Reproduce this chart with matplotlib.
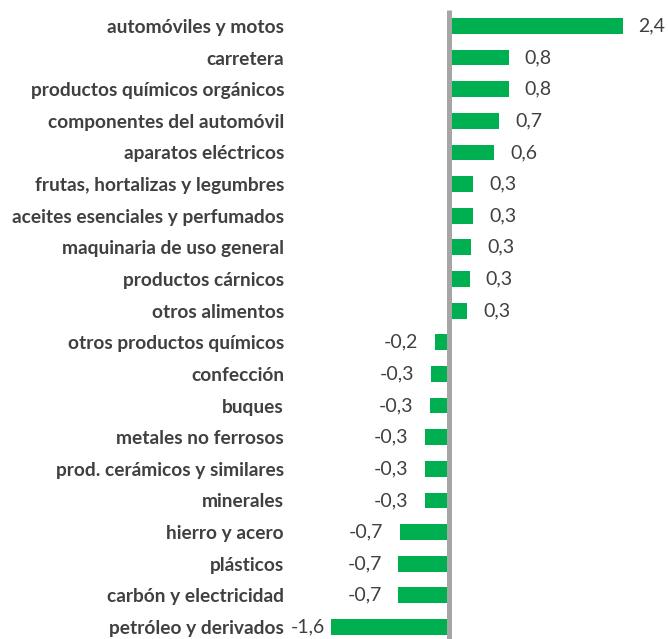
import matplotlib
matplotlib.use("Agg")
import matplotlib.pyplot as plt

categories = [
    "automóviles y motos", "carretera", "productos químicos orgánicos",
    "componentes del automóvil", "aparatos eléctricos",
    "frutas, hortalizas y legumbres", "aceites esenciales y perfumados",
    "maquinaria de uso general", "productos cárnicos", "otros alimentos",
    "otros productos químicos", "confección", "buques", "metales no ferrosos",
    "prod. cerámicos y similares", "minerales", "hierro y acero", "plásticos",
    "carbón y electricidad", "petróleo y derivados",
]
values = [2.40, 0.83, 0.83, 0.70, 0.63, 0.34, 0.34, 0.31, 0.29, 0.26,
          -0.19, -0.24, -0.26, -0.32, -0.32, -0.32, -0.67, -0.69, -0.69, -1.62]
value_labels = ["2,4", "0,8", "0,8", "0,7", "0,6", "0,3", "0,3", "0,3", "0,3", "0,3",
                "-0,2", "-0,3", "-0,3", "-0,3", "-0,3", "-0,3", "-0,7", "-0,7", "-0,7", "-1,6"]

W, H = 668, 639
fig = plt.figure(figsize=(W / 100, H / 100), dpi=100)
ax_left, ax_right = 303.5, 666.0
ax = fig.add_axes([ax_left / W, 0, (ax_right - ax_left) / W, 634 / H])

ypos = list(range(len(categories)))
ax.barh(ypos, values, height=0.5, color="#00b050", zorder=2)
ax.plot([0, 0], [-0.5, 19.5], color="#a6a6a6", lw=3.6, zorder=3, solid_capstyle="butt")

ax.set_xlim(-2, 3)
ax.set_ylim(19.38, -0.66)
for s in ax.spines.values():
    s.set_visible(False)
ax.set_xticks([])
ax.set_yticks(ypos)
ax.set_yticklabels(categories, fontfamily="Lato", fontweight="bold",
                   fontsize=13.8, color="#404040")
ax.tick_params(axis="y", length=0, pad=14)

for y, v, lab in zip(ypos, values, value_labels):
    if v >= 0:
        off, ha = 11.5, "left"
    elif v < -1.5:
        off, ha = -4.3, "right"
    else:
        off, ha = -12, "right"
    ax.annotate(lab, (v, y), xytext=(off, 0), textcoords="offset points",
                ha=ha, va="center", fontfamily="Lato", fontsize=14, color="#404040")

fig.savefig("out.png", dpi=100)
